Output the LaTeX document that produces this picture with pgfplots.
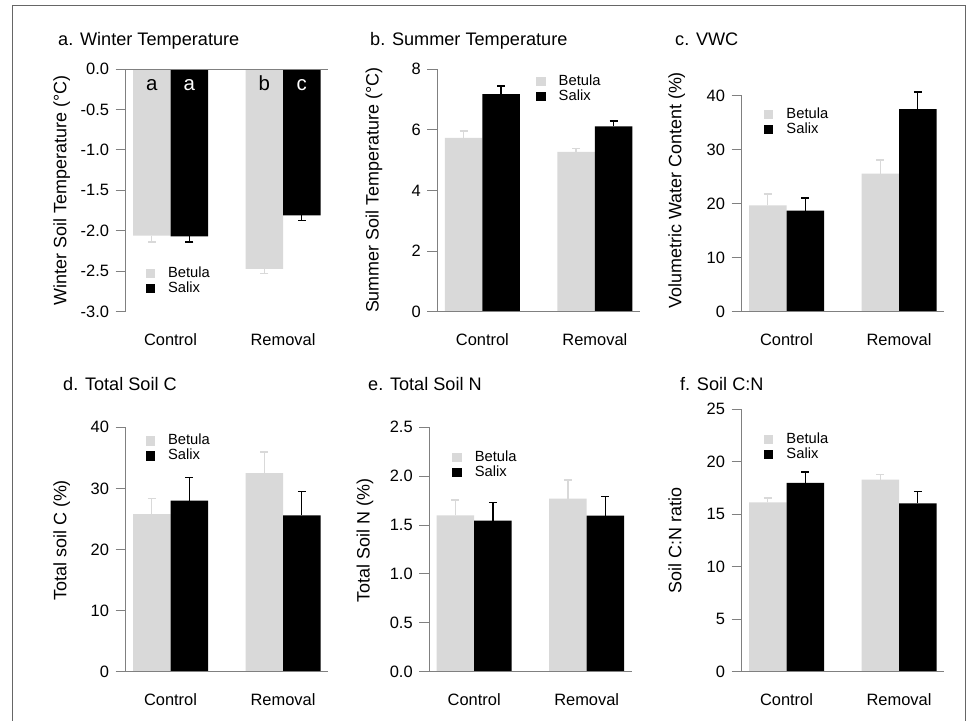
\documentclass[border=0pt]{standalone}
\usepackage{pgfplots}
\pgfplotsset{compat=1.18}
\usepackage{fontspec}
\setmainfont{Liberation Sans}
\definecolor{betula}{gray}{0.85}
\definecolor{axgray}{gray}{0.5}
\definecolor{framegray}{gray}{0.4}

\tikzset{letter/.style={font=\fontsize{20.5}{22}\selectfont, anchor=base}}

\pgfplotsset{
  panel/.style={
    scale only axis, width=202.5bp,
    xmin=0.8, xmax=6.2,
    axis line style={draw=none},
    xtick={2,5}, xticklabels={Control,Removal},
    xtick style={draw=none},
    ytick pos=left, ytick align=outside,
    major tick length=10bp,
    ytick style={axgray, line width=0.9bp},
    ticklabel style={font=\fontsize{16.5}{18}\selectfont},
    xticklabel style={anchor=base, yshift=-24bp},
    yticklabel style={anchor=east, xshift=-3bp},
    ybar, bar width=1, bar shift=0pt,
    legend image code/.code={\fill[##1] (0bp,-4.7bp) rectangle (9.4bp,4.7bp);
      \path[draw=none, fill=none] (0bp,0bp) -- (22bp,0bp);},
    legend style={draw=none, fill=none, anchor=north west, inner sep=0pt,
      font=\fontsize{14.8}{15}\selectfont,
      nodes={inner sep=0.5bp, text height=10.5bp, text depth=2.5bp}, row sep=1bp},
    legend cell align=left,
    clip=false,
  },
  bet/.style={fill=betula, draw=none, error bars/.cd, y dir=#1, y explicit,
    error bar style={color=betula, line width=1.4bp},
    error mark options={color=betula, rotate=90, mark size=4bp, line width=1.4bp}},
  sal/.style={fill=black, draw=none, error bars/.cd, y dir=#1, y explicit,
    error bar style={color=black, line width=1.4bp},
    error mark options={color=black, rotate=90, mark size=4bp, line width=1.4bp}},
}

\begin{document}
\begin{tikzpicture}
\useasboundingbox (0bp,0bp) rectangle (974bp,-721bp);
\fill[white] (0bp,0bp) rectangle (974bp,-721bp);
\draw[framegray, line width=1bp] (12.7bp,-730bp) -- (12.7bp,-5.7bp) -- (965bp,-5.7bp) -- (965bp,-730bp);

% a. winter temperature
\begin{axis}[panel, at={(125.5bp,-311.7bp)}, anchor=south west, height=242.7bp,
  ymin=-3, ymax=0, ytick={-3,-2.5,-2,-1.5,-1,-0.5,0},
  yticklabels={-3.0,-2.5,-2.0,-1.5,-1.0,-0.5,0.0},
  legend style={at={(0.098,0.188)}}]
\addplot[bet=minus] coordinates {(1.5,-2.06) +- (0,0.08) (4.5,-2.47) +- (0,0.06)};
\addplot[sal=minus] coordinates {(2.5,-2.07) +- (0,0.07) (5.5,-1.81) +- (0,0.06)};
\legend{Betula,Salix}
\draw[axgray, line width=0.9bp] (axis cs:0.8,-3) -- (axis cs:0.8,0) -- (axis cs:6.2,0);
\node[letter] at (axis cs:1.5,-0.26) {a};
\node[letter, white] at (axis cs:2.5,-0.26) {a};
\node[letter] at (axis cs:4.5,-0.26) {b};
\node[letter, white] at (axis cs:5.5,-0.26) {c};
\end{axis}

% b. summer temperature
\begin{axis}[panel, at={(437.4bp,-311.7bp)}, anchor=south west, height=242.7bp,
  ymin=0, ymax=8, ytick={0,2,4,6,8}, yticklabels={0,2,4,6,8},
  legend style={at={(0.487,0.977)}}]
\addplot[bet=plus] coordinates {(1.5,5.73) +- (0,0.23) (4.5,5.27) +- (0,0.10)};
\addplot[sal=plus] coordinates {(2.5,7.17) +- (0,0.27) (5.5,6.11) +- (0,0.18)};
\legend{Betula,Salix}
\draw[axgray, line width=0.9bp] (axis cs:0.8,8) -- (axis cs:0.8,0) -- (axis cs:6.2,0);
\end{axis}

% c. VWC
\begin{axis}[panel, at={(741.5bp,-311.7bp)}, anchor=south west, height=242.7bp,
  ymin=0, ymax=44.95, ytick={0,10,20,30,40}, yticklabels={0,10,20,30,40},
  legend style={at={(0.110,0.843)}}]
\addplot[bet=plus] coordinates {(1.5,19.7) +- (0,2.1) (4.5,25.56) +- (0,2.5)};
\addplot[sal=plus] coordinates {(2.5,18.7) +- (0,2.35) (5.5,37.5) +- (0,3.2)};
\legend{Betula,Salix}
\draw[axgray, line width=0.9bp] (axis cs:0.8,40) -- (axis cs:0.8,0) -- (axis cs:6.2,0);
\end{axis}

% d. total soil C
\begin{axis}[panel, at={(125.5bp,-671.7bp)}, anchor=south west, height=262.7bp,
  ymin=0, ymax=43.0, ytick={0,10,20,30,40}, yticklabels={0,10,20,30,40},
  legend style={at={(0.098,0.906)}}]
\addplot[bet=plus] coordinates {(1.5,25.8) +- (0,2.6) (4.5,32.5) +- (0,3.45)};
\addplot[sal=plus] coordinates {(2.5,28.0) +- (0,3.75) (5.5,25.6) +- (0,3.9)};
\legend{Betula,Salix}
\draw[axgray, line width=0.9bp] (axis cs:0.8,40) -- (axis cs:0.8,0) -- (axis cs:6.2,0);
\end{axis}

% e. total soil N
\begin{axis}[panel, at={(429.2bp,-671.7bp)}, anchor=south west, height=262.7bp,
  ymin=0, ymax=2.687, ytick={0,0.5,1,1.5,2,2.5},
  yticklabels={0.0,0.5,1.0,1.5,2.0,2.5},
  legend style={at={(0.113,0.842)}}]
\addplot[bet=plus] coordinates {(1.5,1.60) +- (0,0.155) (4.5,1.77) +- (0,0.19)};
\addplot[sal=plus] coordinates {(2.5,1.545) +- (0,0.185) (5.5,1.596) +- (0,0.195)};
\legend{Betula,Salix}
\draw[axgray, line width=0.9bp] (axis cs:0.8,2.5) -- (axis cs:0.8,0) -- (axis cs:6.2,0);
\end{axis}

% f. soil C:N
\begin{axis}[panel, at={(741.5bp,-671.7bp)}, anchor=south west, height=262.7bp,
  ymin=0, ymax=25, ytick={0,5,10,15,20,25}, yticklabels={0,5,10,15,20,25},
  legend style={at={(0.110,0.912)}}]
\addplot[bet=plus] coordinates {(1.5,16.12) +- (0,0.41) (4.5,18.27) +- (0,0.51)};
\addplot[sal=plus] coordinates {(2.5,17.98) +- (0,1.02) (5.5,16.02) +- (0,1.11)};
\legend{Betula,Salix}
\draw[axgray, line width=0.9bp] (axis cs:0.8,25) -- (axis cs:0.8,0) -- (axis cs:6.2,0);
\end{axis}

% titles
\begin{scope}[every node/.style={anchor=base west, inner sep=0pt, font=\fontsize{18.2}{20}\selectfont}]
\node at (58bp,-45bp) {a. Winter Temperature};
\node at (370bp,-45bp) {b. Summer Temperature};
\node at (675bp,-45bp) {c. VWC};
\node at (63bp,-390.5bp) {d. Total Soil C};
\node at (368bp,-390.5bp) {e. Total Soil N};
\node at (680bp,-390.5bp) {f. Soil C:N};
\end{scope}

% y axis labels
\begin{scope}[every node/.style={rotate=90, inner sep=0pt, font=\fontsize{18}{20}\selectfont}]
\node at (61.7bp,-190.3bp) {Winter Soil Temperature (°C)};
\node at (374bp,-190.3bp) {Summer Soil Temperature (°C)};
\node at (676.7bp,-190.3bp) {Volumetric Water Content (\%)};
\node at (61.7bp,-540.3bp) {Total soil C (\%)};
\node at (365bp,-540.3bp) {Total Soil N (\%)};
\node at (675bp,-540.3bp) {Soil C:N ratio};
\end{scope}
\end{tikzpicture}
\end{document}
